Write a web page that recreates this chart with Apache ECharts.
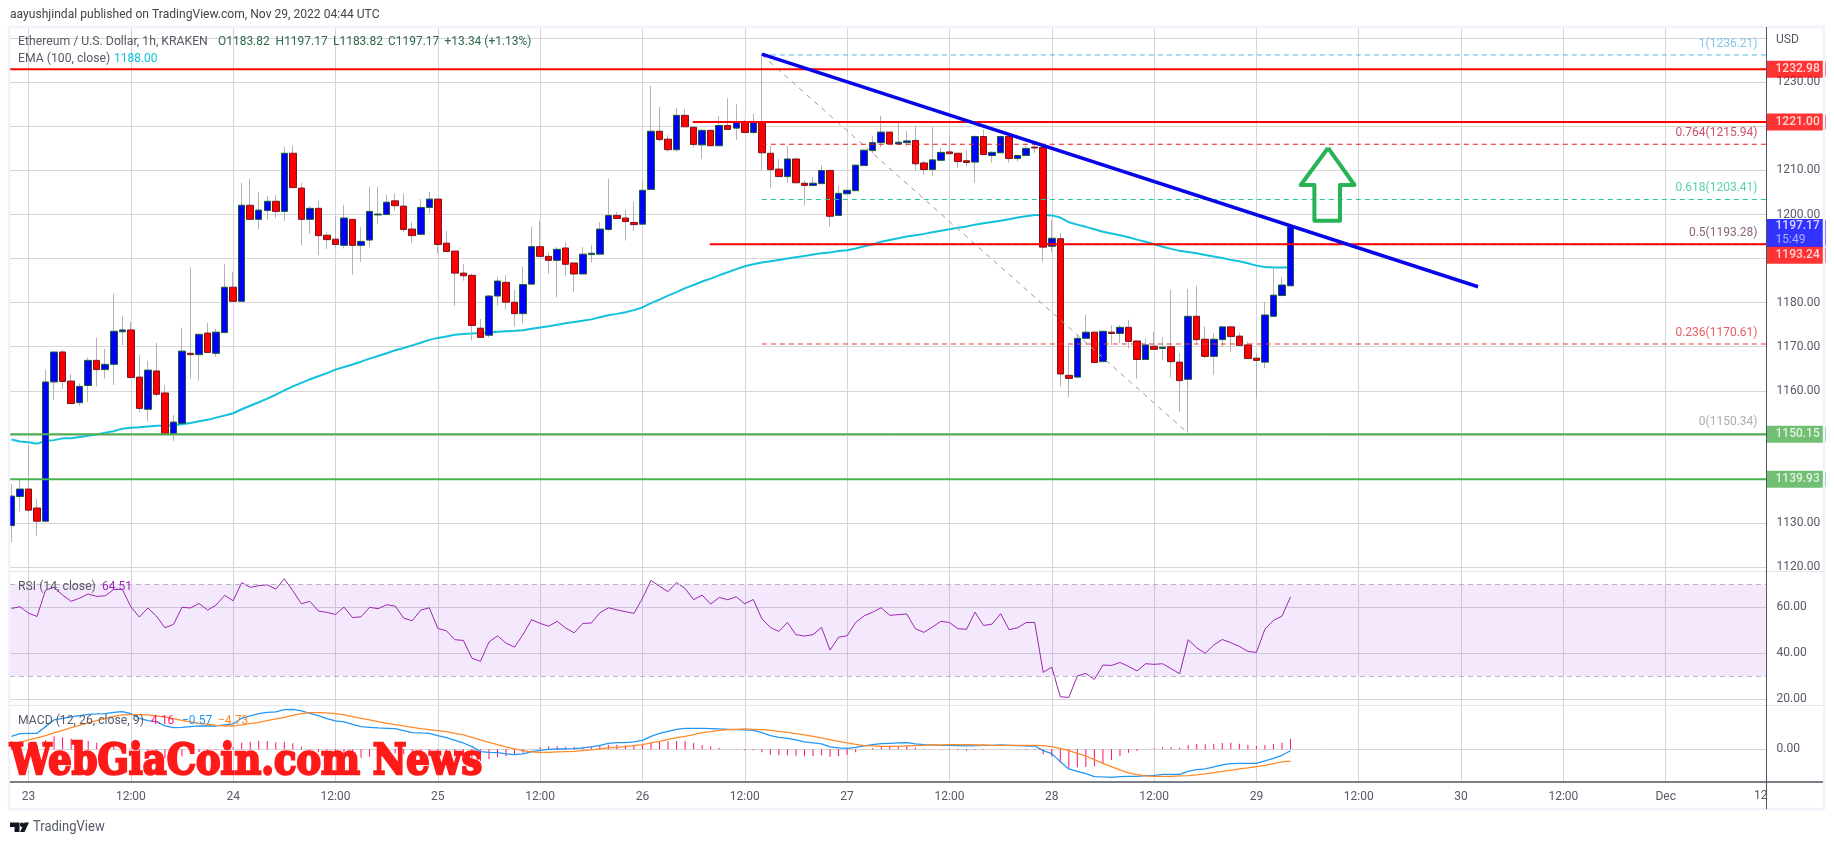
<!DOCTYPE html>
<html>
<head>
<meta charset="utf-8">
<title>ETHUSD 1h</title>
<style>
html, body { margin: 0; padding: 0; background: #fff; }
#chart { width: 1834px; height: 845px; }
</style>
</head>
<body>
<div id="chart"></div>
<script src="https://cdn.jsdelivr.net/npm/echarts@6/dist/echarts.min.js"></script>
<script>
// hours counted from Nov 23 00:00, first candle is hour -2
var firstHour = -2;
var opens = [1129.4,1136.0,1137.7,1133.4,1130.4,1162.0,1168.8,1162.2,1157.3,1161.2,1166.9,1164.8,
1166.0,1173.4,1173.8,1163.1,1155.8,1164.5,1159.5,1150.2,1152.6,1168.5,1168.2,1173.1,1168.5,1173.2,1183.5,1180.3,
1202.1,1198.9,1200.9,1203.0,1200.7,1213.9,1206.0,1198.9,1201.4,1195.3,1194.4,1193.0,1198.9,1193.0,1194.2,1199.9,1200.0,1203.1,1201.9,1196.7,1195.5,1201.6,1203.5,1193.5,1191.7,1186.7,1186.2,1174.2,1172.6,1181.5,1184.6,1180.1,1177.5,1184.2,1192.7,1190.5,1189.6,1192.4,1189.0,1186.5,1190.9,1191.0,1196.6,1199.8,
1199.2,1198.2,1197.8,1205.7,1218.9,1217.1,1214.7,1222.5,1219.8,1215.8,1219.1,1215.6,1220.2,1219.6,1221.1,1218.6,1221.1,1213.9,1210.3,1208.6,1212.6,1207.1,1206.6,1207.0,1210.0,1199.8,1204.7,1205.4,1211.1,1214.5,1216.3,1218.7,1216.0,1216.3,1216.8,1211.7,1210.2,1212.3,1214.2,1213.9,1212.2,1211.9,1217.7,1213.4,1214.0,1217.7,1212.7,1213.4,1215.3,1215.2,1192.8,1194.5,1163.5,1163.1,1171.9,1173.3,1166.6,1173.3,1173.0,1174.4,1171.3,1167.1,1170.1,1169.6,1170.0,1166.5,1162.6,1176.9,1171.7,1167.8,1171.6,1174.5,1172.4,1170.4,1167.4,1166.5,1176.9,1181.6,1183.82];
var closes = [1136.1,1137.7,1132.9,1130.4,1162.0,1168.8,1162.1,1157.1,1161.0,1166.9,1164.8,1166.0,
1173.5,1173.8,1163.0,1156.0,1164.7,1159.2,1150.2,1152.9,1169.0,1168.2,1172.8,1168.7,1173.3,1183.5,1180.3,1202.1,
1198.9,1201.0,1203.0,1200.7,1213.9,1206.1,1198.9,1201.4,1195.2,1194.3,1193.2,1199.2,1193.0,1193.9,1200.7,1200.1,1202.8,1202.0,1196.6,1195.2,1201.6,1203.5,1193.2,1191.6,1186.7,1186.1,1174.8,1172.1,1181.5,1184.9,1180.1,1177.5,1184.1,1192.7,1190.5,1189.6,1192.1,1188.7,1186.5,1191.0,1191.2,1196.7,1199.8,1199.1,
1198.4,1197.7,1205.5,1218.9,1217.0,1214.7,1222.5,1219.9,1215.9,1219.1,1215.6,1220.2,1219.3,1221.0,1218.6,1221.1,1214.0,1210.2,1208.6,1212.6,1207.2,1206.6,1207.1,1210.0,1199.6,1204.8,1205.5,1211.2,1214.6,1216.3,1218.7,1216.0,1216.4,1216.7,1211.5,1210.2,1212.4,1214.1,1213.8,1212.0,1211.8,1217.7,1213.6,1214.1,1217.7,1212.7,1213.4,1215.0,1215.1,1192.6,1194.6,1163.8,1162.8,1171.9,1173.3,1166.4,1173.5,1173.0,1174.4,1171.2,1167.1,1170.4,1169.4,1169.9,1166.6,1162.3,1176.9,1171.6,1167.8,1171.7,1174.5,1172.3,1170.3,1167.3,1166.9,1177.2,1181.7,1184.0,1197.17];
var lows = [1125.6,1132.6,1132.5,1127.1,1130.4,1157.9,1160.4,1157.1,1156.6,1157.5,1161.0,1162.7,
1161.3,1170.4,1163.0,1155.1,1153.0,1158.7,1150.0,1148.6,1152.6,1162.8,1162.3,1168.7,1167.7,1173.2,1180.3,1180.3,
1198.9,1196.7,1198.8,1199.2,1198.6,1206.1,1193.1,1195.6,1190.8,1192.2,1192.3,1192.3,1186.3,1189.3,1192.5,1197.9,1200.0,1200.9,1196.0,1193.6,1195.5,1200.1,1191.1,1191.6,1179.3,1185.0,1171.4,1172.1,1172.1,1179.3,1178.4,1174.6,1175.3,1184.2,1190.5,1186.5,1181.2,1186.1,1182.4,1186.5,1189.1,1191.0,1196.2,1199.0,
1194.1,1196.3,1197.8,1205.7,1216.5,1214.3,1214.3,1219.9,1215.2,1212.6,1215.6,1215.6,1219.2,1216.9,1218.6,1218.2,1210.0,1206.1,1208.6,1207.2,1207.2,1202.0,1206.5,1207.0,1197.3,1199.8,1204.7,1205.4,1211.1,1213.9,1215.3,1216.0,1215.8,1215.4,1210.0,1209.0,1208.8,1212.3,1213.8,1210.6,1210.9,1207.2,1213.6,1211.8,1214.0,1211.8,1212.0,1213.4,1214.0,1189.3,1191.4,1161.0,1158.5,1163.1,1171.9,1166.4,1166.6,1170.4,1170.8,1169.6,1162.7,1167.1,1169.4,1167.0,1163.0,1155.2,1150.5,1170.7,1167.4,1163.6,1169.9,1168.8,1170.3,1167.3,1158.2,1165.1,1176.9,1181.6,1183.82];
var highs = [1138.9,1139.8,1147.7,1135.5,1164.8,1168.8,1169.3,1163.8,1161.7,1167.6,1172.0,1169.5,
1182.0,1177.0,1175.6,1168.2,1166.8,1170.9,1161.3,1154.5,1174.3,1188.0,1173.0,1175.4,1174.0,1188.7,1187.0,1207.2,
1208.1,1205.1,1204.2,1204.4,1215.4,1215.6,1207.2,1201.9,1203.1,1196.0,1199.5,1202.2,1199.0,1197.1,1206.3,1206.3,1204.4,1204.8,1204.7,1198.3,1203.5,1205.1,1203.6,1196.3,1191.8,1188.7,1186.6,1176.3,1181.7,1185.9,1186.2,1182.9,1188.2,1197.2,1198.6,1191.4,1192.6,1193.7,1189.0,1192.6,1193.1,1198.3,1208.1,1200.6,
1201.0,1202.9,1208.1,1229.2,1224.4,1218.0,1224.2,1223.9,1219.8,1219.3,1219.3,1222.4,1226.4,1225.0,1221.5,1222.8,1236.3,1215.6,1212.6,1215.4,1212.7,1207.8,1208.5,1211.2,1210.1,1206.5,1205.6,1211.3,1214.7,1217.8,1222.4,1218.7,1221.0,1218.9,1220.1,1212.2,1219.9,1215.2,1217.8,1214.0,1214.6,1218.0,1219.3,1214.3,1217.9,1218.0,1213.6,1215.5,1215.8,1215.3,1198.8,1195.8,1170.2,1172.7,1177.2,1173.4,1173.6,1174.9,1174.9,1176.1,1171.3,1171.8,1173.4,1172.1,1182.9,1168.6,1183.1,1183.8,1174.6,1173.1,1174.7,1174.6,1173.2,1171.1,1168.5,1180.2,1188.2,1185.8,1197.17];

var ema = [1148.95,1148.5,1148.3,1148.0,1148.6,1148.8,1149.2,1149.25,1149.5,1149.8,1150.1,1150.5,1150.8,1151.4,1151.6,1151.7,1151.9,1152.05,1152.1,1152.2,1152.4,1152.7,1153.1,1153.4,1153.9,1154.4,1154.9,1155.8,1156.6,1157.4,1158.2,1159.1,1160.1,1161,1161.8,1162.6,1163.3,1164,1164.8,1165.4,1165.96,1166.6,1167.3,1167.9,1168.5,1169.2,1169.7,1170.3,1170.9,1171.55,1172,1172.3,1172.7,1172.9,1173,1173.1,1173.2,1173.4,1173.5,1173.6,1173.75,1174.05,1174.35,1174.65,1175,1175.3,1175.6,1175.9,1176.2,1176.7,1177.15,1177.45,
1177.8,1178.3,1178.9,1179.9,1180.7,1181.6,1182.4,1183.3,1184,1184.8,1185.45,1186.2,1186.9,1187.6,1188.25,1188.7,1189.1,1189.4,1189.7,1190,1190.3,1190.6,1190.9,1191.2,1191.4,1191.7,1191.9,1192.3,1192.8,1193.2,1193.8,1194.2,1194.6,1195,1195.3,1195.6,1195.97,1196.3,1196.65,1197,1197.3,1197.7,1198,1198.3,1198.6,1198.9,1199.3,1199.6,1199.9,1199.9,1199.8,1199.3,1198.25,1197.7,1197.2,1196.65,1196.1,1195.7,1195.3,1194.85,1194.3,1193.8,1193.25,1192.7,1192.2,1191.75,1191.5,1191.2,1190.8,1190.45,1190.15,1189.7,1189.4,1188.95,1188.4,1188.1,1187.95,1187.95,1188.0];

var rsi = [59.5,60.25,57.5,56,67.5,68.7,65.3,62.6,64,65.8,64.75,65,67.8,67.8,60.25,55.75,59.7,56.2,51.1,52.55,60,59.7,61.7,58.8,61,65.2,62.85,70.7,68.7,69.4,69.8,67.9,72.4,67.2,61.55,62.6,58.35,57.8,56.9,60.1,55.5,55.9,60,59.4,61.1,60.55,55.3,54.15,58.8,59.8,50.8,49.8,45.9,45.6,37.9,36.5,44.9,47.6,44.4,42.7,48.2,54.6,53,51.8,53.9,51,48.9,53,53.15,57.6,59.8,58.9,
58.1,57.35,63.9,71.7,69.2,66.8,70.8,68.2,63.3,65.3,61.4,64.3,63.3,64.6,61.55,63.4,55,51.25,49.5,53.4,48.1,47.5,48.1,51.25,41.4,47,47.6,53.4,56.3,57.9,59.8,56.5,56.8,57.1,50.7,49.1,51.4,53.9,53.4,50.7,50.4,57.9,52.1,52.7,57.2,50.25,51.1,53.4,53.4,31.7,34,21.1,20.8,30.1,31.25,28.6,34.9,34.7,36,34.3,32.3,35.45,35.2,35.45,33.3,31.1,45.9,42.4,40,43.6,46,44.6,43,40.8,40.4,50.5,54.3,56.2,64.51];

var macd = [5.2,6.27,6.4,6.4,9.07,11.73,12.4,12.93,13.47,14,14.13,14.27,14.8,15.07,14.27,12.4,11.47,11.07,9.33,8.67,8.8,9.07,9.33,9.33,9.33,9.73,10.13,12.4,13.33,14.27,14.8,14.93,15.87,16,15.33,14.4,13.47,12.27,11.33,10.93,10,9.07,8.8,8.53,8.4,8.27,7.47,6.67,6.53,6.4,5.47,4.67,3.6,2.53,1.07,-0.93,-1.2,-1.33,-1.87,-2.13,-1.87,-0.93,-0.4,0,0.13,0.13,0.27,0.53,0.93,1.6,2.4,2.67,
2.67,2.93,3.6,5.2,6.4,7.2,8,8.4,8.4,8.4,8.27,8.13,8,7.87,7.73,7.6,6.67,5.47,4.8,4.4,3.73,2.93,2.53,2.13,0.93,0.53,0.4,0.8,1.33,1.87,2.27,2.4,2.53,2.67,2.13,1.87,1.73,1.6,1.6,1.47,1.33,1.47,1.6,1.6,1.73,1.6,1.47,1.33,1.33,-0.53,-1.73,-4.93,-7.87,-8.8,-9.73,-10.93,-11.07,-11.2,-10.93,-10.8,-10.8,-10.53,-10.4,-10,-10,-10,-8.8,-8.13,-7.87,-7.07,-6.27,-5.73,-5.6,-5.6,-5.6,-4.67,-3.6,-2.4,-0.57];
var signal = [2,2.8,3.73,4.53,5.47,6.53,7.6,8.67,9.6,10.67,11.47,12.4,13.2,13.73,13.87,13.87,13.73,13.33,12.93,12.27,11.6,10.93,10.4,10,9.6,9.33,9.33,9.73,10.27,10.8,11.47,12.13,12.8,13.6,14.27,14.67,14.67,14.53,14.27,13.73,13.07,12.4,11.73,11.07,10.4,9.87,9.33,8.8,8.27,7.87,7.47,7.07,6.4,5.73,4.8,3.73,2.8,1.87,0.93,0.13,-0.53,-1.07,-1.2,-1.2,-1.07,-0.93,-0.8,-0.53,-0.27,0.13,0.53,0.8,
1.07,1.47,1.87,2.53,3.2,4,4.67,5.2,5.87,6.67,7.07,7.6,7.87,8,8.13,8,7.87,7.6,7.2,6.8,6.27,5.73,5.2,4.53,3.87,3.2,2.53,2,1.47,1.33,1.2,1.2,1.2,1.33,1.47,1.6,1.73,1.73,1.87,1.87,1.87,1.73,1.73,1.6,1.6,1.6,1.6,1.6,1.6,1.47,1.07,0.4,-0.53,-1.6,-2.67,-4.13,-5.6,-6.93,-8.27,-9.47,-10.13,-10.67,-10.8,-10.8,-10.8,-10.67,-10.53,-10.27,-9.87,-9.33,-8.8,-8.4,-7.87,-7.47,-6.93,-6.4,-5.73,-5.07,-4.73];
var histogram = [3.2,3.47,2.67,1.87,3.6,5.2,4.8,4.26,3.87,3.33,2.66,1.87,1.6,1.34,0.4,-1.47,-2.26,-2.26,-3.6,-3.6,-2.8,-1.86,-1.07,-0.67,-0.27,0.4,0.8,2.67,3.06,3.47,3.33,2.8,3.07,2.4,1.06,-0.27,-1.2,-2.26,-2.94,-2.8,-3.07,-3.33,-2.93,-2.54,-2,-1.6,-1.86,-2.13,-1.74,-1.47,-2,-2.4,-2.8,-3.2,-3.73,-4.66,-4,-3.2,-2.8,-2.26,-1.34,0.14,0.8,1.2,1.2,1.06,1.07,1.06,1.2,1.47,1.87,1.87,
1.6,1.46,1.73,2.67,3.2,3.2,3.33,3.2,2.53,1.73,1.2,0.53,0.13,-0.13,-0.4,-0.4,-1.2,-2.13,-2.4,-2.4,-2.54,-2.8,-2.67,-2.4,-2.94,-2.67,-2.13,-1.2,-0.14,0.54,1.07,1.2,1.33,1.34,0.66,0.27,0,-0.13,-0.27,-0.4,-0.54,-0.26,-0.13,0,0.13,0,-0.13,-0.27,-0.27,-2,-2.8,-5.33,-7.34,-7.2,-7.06,-6.8,-5.47,-4.27,-2.66,-1.33,-0.67,0.14,0.4,0.8,0.8,0.67,1.73,2.14,2,2.26,2.53,2.67,2.27,1.87,1.33,1.73,2.13,2.67,4.16];

var gridHours = [0,12,24,36,48,60,72,84,96,108,120,132,144,156,168,180,192];
var timeLabels = ['23','12:00','24','12:00','25','12:00','26','12:00','27','12:00','28','12:00','29','12:00','30','12:00','Dec'];
var priceGrid = [1120,1130,1140,1150,1160,1170,1180,1190,1200,1210,1220,1230,1240];
var priceLabels = [1120,1130,1160,1170,1180,1200,1210,1230];
var rsiTicks = [20,40,60];
var macdTicks = [0];

// drawings
var redLevels = [1232.98, 1221.00, 1193.24];
var redStarts = [-2.17, 77.9, 79.9];
var greenLevels = [1150.15, 1139.93];
var fibRatios = ['1', '0.764', '0.618', '0.5', '0.236', '0'];
var fibPrices = [1236.21, 1215.94, 1203.41, 1193.28, 1170.61, 1150.34];
var fibLine = ['#4db6e8', '#f01818', '#26c990', '#3a2a6a', '#e53935', '#9e9e9e'];
var fibText = ['#64b5e6', '#b8283c', '#2fc596', '#6b3a5c', '#e0343c', '#999999'];
var trendHours = [86, 170];
var trendPrices = [1236.4, 1183.6];
var fibDiagHours = [86, 136];
var fibDiagPrices = [1236.21, 1150.34];
var arrowHours = [152.4, 155.5, 153.8, 153.8, 150.8, 150.8, 149.2, 152.4];
var arrowPrices = [1215.1, 1206.7, 1206.7, 1198.6, 1198.6, 1206.7, 1206.7, 1215.1];

var xMin = -2.17, xMax = 203.82;
var font = 'Roboto, sans-serif';
var gridColor = '#d6d6d8';
var axisColor = '#50535e';
var textColor = '#555a66';

function pairs(values) {
    return values.map(function (v, i) { return [firstHour + i, v]; });
}
function line(xs, ys) {
    return xs.map(function (x, i) { return [x, ys[i]]; });
}

var wickData = opens.map(function (o, i) {
    return [firstHour + i, o, closes[i], lows[i], highs[i]];
});
var bodyData = opens.map(function (o, i) {
    return [firstHour + i, o, closes[i], Math.min(o, closes[i]), Math.max(o, closes[i])];
});

function xAxisFor(gridIndex, showLabels) {
    return {
        type: 'value', gridIndex: gridIndex, min: xMin, max: xMax,
        axisLine: { show: false },
        axisTick: { show: false, customValues: gridHours },
        splitLine: { show: true, lineStyle: { color: gridColor, width: 1 } },
        axisLabel: {
            show: showLabels, customValues: gridHours, hideOverlap: false,
            margin: 9, color: textColor, fontFamily: font, fontSize: 12,
            formatter: function (v) { return timeLabels[gridHours.indexOf(v)]; }
        }
    };
}
function yAxisFor(gridIndex, min, max, ticks, labels) {
    return {
        type: 'value', gridIndex: gridIndex, position: 'right', min: min, max: max,
        axisLine: { show: false },
        axisTick: { show: false, customValues: ticks },
        splitLine: { show: true, lineStyle: { color: gridColor, width: 1 } },
        axisLabel: {
            customValues: labels, margin: 10, color: textColor, fontFamily: font, fontSize: 12,
            padding: [2, 0, 0, 0], showMinLabel: true, showMaxLabel: true,
            formatter: function (v) { return v.toFixed(2); }
        }
    };
}

var series = [
    { type: 'line', name: 'EMA', xAxisIndex: 0, yAxisIndex: 0, data: pairs(ema), showSymbol: false, z: 2,
      lineStyle: { color: '#12c2dc', width: 2 } },
    { type: 'candlestick', name: 'wicks', xAxisIndex: 0, yAxisIndex: 0, data: wickData, barWidth: 1, z: 3,
      encode: { x: 0, y: [1, 2, 3, 4] },
      itemStyle: { color: '#b4b4b4', color0: '#b4b4b4', borderColor: '#b4b4b4', borderColor0: '#b4b4b4', borderWidth: 1 } },
    { type: 'candlestick', name: 'bodies', xAxisIndex: 0, yAxisIndex: 0, data: bodyData, barWidth: 7, z: 4,
      encode: { x: 0, y: [1, 2, 3, 4] },
      itemStyle: { color: '#0000ff', color0: '#ff0000', borderColor: '#1b5e30', borderColor0: '#7a1420', borderWidth: 1 } },
    { type: 'line', name: 'Fib diagonal', xAxisIndex: 0, yAxisIndex: 0, data: line(fibDiagHours, fibDiagPrices), showSymbol: false, z: 5,
      lineStyle: { color: '#9a9a9a', width: 1, type: [5, 5] } },
    { type: 'line', name: 'Trend', xAxisIndex: 0, yAxisIndex: 0, data: line(trendHours, trendPrices), showSymbol: false, z: 7,
      lineStyle: { color: '#0606e8', width: 3.5 } },
    { type: 'line', name: 'Arrow', xAxisIndex: 0, yAxisIndex: 0, data: line(arrowHours, arrowPrices), showSymbol: false, z: 7,
      lineStyle: { color: '#27b355', width: 4, join: 'round' } }
];

// fib levels, dashed from the swing high to the price axis
fibPrices.forEach(function (p, i) {
    // the 0 level sits under the green support line
    if (fibRatios[i] !== '0') {
        series.push({
            type: 'line', name: 'Fib ' + fibRatios[i], xAxisIndex: 0, yAxisIndex: 0,
            data: [[fibDiagHours[0], p], [xMax, p]], showSymbol: false, z: 5,
            lineStyle: { color: fibLine[i], width: 1, type: [5, 4] }
        });
    }
    series.push({
        type: 'scatter', xAxisIndex: 0, yAxisIndex: 0, data: [[xMax, p]], symbolSize: 0, clip: false, z: 9,
        label: {
            show: true, position: 'left', distance: 0, offset: [-9, -11],
            color: fibText[i], fontFamily: font, fontSize: 12,
            formatter: fibRatios[i] + '(' + p.toFixed(2) + ')'
        }
    });
});

function levelTag(p, color, offsetY) {
    return {
        type: 'scatter', xAxisIndex: 0, yAxisIndex: 0, data: [[xMax, p]], symbolSize: 0, clip: false, z: 11,
        label: {
            show: true, position: 'right', distance: 0, offset: [0, offsetY || 0],
            backgroundColor: color, color: '#fff', fontFamily: font, fontSize: 12, fontWeight: 500,
            lineHeight: 15, padding: [1, 6, 1, 9], borderRadius: [0, 2, 2, 0],
            formatter: p.toFixed(2)
        }
    };
}
redLevels.forEach(function (p, i) {
    series.push({
        type: 'line', xAxisIndex: 0, yAxisIndex: 0, data: [[redStarts[i], p], [xMax, p]], showSymbol: false, z: 6,
        lineStyle: { color: '#ff0000', width: 2 }
    });
    series.push(levelTag(p, '#ff0000', i === 2 ? 11 : 0));
});
greenLevels.forEach(function (p) {
    series.push({
        type: 'line', xAxisIndex: 0, yAxisIndex: 0, data: [[xMin, p], [xMax, p]], showSymbol: false, z: 6,
        lineStyle: { color: '#4caf50', width: 2 }
    });
    series.push(levelTag(p, '#4caf50'));
});
// last price tag with the bar countdown
series.push({
    type: 'scatter', xAxisIndex: 0, yAxisIndex: 0, data: [[xMax, closes[closes.length - 1]]], symbolSize: 0, clip: false, z: 10,
    label: {
        show: true, position: 'right', distance: 0, offset: [0, 6],
        backgroundColor: '#0000ff', padding: [0, 6, 0, 9], borderRadius: [0, 2, 2, 0],
        formatter: '{a|1197.17}\n{b|15:49}',
        rich: {
            a: { color: '#fff', fontFamily: font, fontSize: 12, fontWeight: 500, lineHeight: 15 },
            b: { color: '#c8d0ff', fontFamily: font, fontSize: 12, lineHeight: 13 }
        }
    }
});

// RSI pane
series.push({
    type: 'line', name: 'RSI', xAxisIndex: 1, yAxisIndex: 1, data: pairs(rsi), showSymbol: false, z: 3,
    lineStyle: { color: '#9c27b0', width: 1 },
    markArea: { silent: true, itemStyle: { color: 'rgba(150,40,230,0.1)' }, data: [[{ yAxis: 70 }, { yAxis: 30 }]] },
    markLine: {
        silent: true, symbol: 'none', label: { show: false },
        lineStyle: { color: '#b9b9bd', type: [5, 4], width: 1 },
        data: [{ yAxis: 70 }, { yAxis: 30 }]
    }
});

// MACD pane
series.push({
    type: 'bar', name: 'Histogram', xAxisIndex: 2, yAxisIndex: 2, data: pairs(histogram), barWidth: 1, z: 2,
    itemStyle: { color: '#ff0d6e' }
});
series.push({
    type: 'line', name: 'MACD', xAxisIndex: 2, yAxisIndex: 2, data: pairs(macd), showSymbol: false, z: 3,
    lineStyle: { color: '#2196f3', width: 1.3 }
});
series.push({
    type: 'line', name: 'Signal', xAxisIndex: 2, yAxisIndex: 2, data: pairs(signal), showSymbol: false, z: 4,
    lineStyle: { color: '#ff8a2a', width: 1.3 }
});

function txt(x, y, text, color, size, sx) {
    return {
        type: 'text', z: 30, silent: true, x: x, y: y, scaleX: sx || 1,
        style: { x: 0, y: 0, text: text, fill: color, font: (size || 12) + 'px ' + font, textVerticalAlign: 'middle' }
    };
}
function hline(x1, x2, y, color, w) {
    return { type: 'line', z: 20, silent: true, shape: { x1: x1, y1: y, x2: x2, y2: y }, style: { stroke: color, lineWidth: w || 1 } };
}
var legendGreen = '#2f6b4a';

var graphics = [
    { type: 'rect', z: 19, silent: true, shape: { x: 9, y: 27, width: 1815, height: 782 }, style: { fill: 'none', stroke: '#f0f3fa', lineWidth: 2.5 } },
    hline(10, 1823, 571.5, '#e4e6ec'),
    hline(10, 1823, 705.5, '#e4e6ec'),
    hline(10, 1823, 782, axisColor, 1.5),
    { type: 'line', z: 20, silent: true, shape: { x1: 1766.5, y1: 27, x2: 1766.5, y2: 809 }, style: { stroke: axisColor, lineWidth: 1 } },
    txt(10, 15, 'aayushjindal published on TradingView.com, Nov 29, 2022 04:44 UTC', '#444', 13, 0.93),
    txt(18, 42, 'Ethereum / U.S. Dollar, 1h, KRAKEN', textColor, 13, 0.94),
    txt(218, 42, 'O1183.82', legendGreen, 13, 0.92),
    txt(275.6, 42, 'H1197.17', legendGreen, 13, 0.92),
    txt(333, 42, 'L1183.82', legendGreen, 13, 0.92),
    txt(388, 42, 'C1197.17', legendGreen, 13, 0.92),
    txt(444.5, 42, '+13.34 (+1.13%)', legendGreen, 13, 0.92),
    txt(18, 59, 'EMA (100, close)', textColor, 13, 0.94),
    txt(114, 59, '1188.00', '#12c2dc', 13, 0.92),
    txt(18, 587, 'RSI (14, close)', textColor, 13, 0.94),
    txt(102, 587, '64.51', '#9c27b0', 13, 0.92),
    txt(18, 721, 'MACD (12, 26, close, 9)', textColor, 13, 0.94),
    txt(151, 721, '4.16', '#ff0d6e', 13, 0.92),
    txt(182, 721, '\u22120.57', '#2196f3', 13, 0.92),
    txt(218, 721, '\u22124.73', '#ff8a2a', 13, 0.92),
    txt(1776, 40, 'USD', textColor, 12),
    txt(1754, 796, '12', textColor, 12),
    { type: 'text', z: 40, silent: true, x: 10, y: 784, scaleX: 0.876, style: {
        x: 0, y: 0, text: 'WebGiaCoin.com News', fill: '#ff1a1a', stroke: '#ff1a1a', lineWidth: 2.5,
        font: 'bold 42px "DejaVu Serif", serif', textVerticalAlign: 'bottom'
    } },
    { type: 'polygon', z: 30, silent: true, shape: { points: [[10, 822.5], [19.5, 822.5], [19.5, 832], [14.5, 832], [14.5, 827], [10, 827]] }, style: { fill: '#131722' } },
    { type: 'circle', z: 30, silent: true, shape: { cx: 22, cy: 824.8, r: 2.2 }, style: { fill: '#131722' } },
    { type: 'polygon', z: 30, silent: true, shape: { points: [[24.5, 822.5], [29, 822.5], [24.5, 832], [20, 832]] }, style: { fill: '#131722' } },
    txt(33, 827, 'TradingView', '#555a66', 14, 0.93)
];

var myChart = echarts.init(document.getElementById('chart'), null, { renderer: 'canvas' });
myChart.setOption({
    animation: false,
    backgroundColor: '#ffffff',
    grid: [
        { left: 10, right: 67.5, top: 27, height: 544 },
        { left: 10, right: 67.5, top: 571, height: 134 },
        { left: 10, right: 67.5, top: 705, height: 77 }
    ],
    xAxis: [xAxisFor(0, false), xAxisFor(1, false), xAxisFor(2, true)],
    yAxis: [
        yAxisFor(0, 1119.1, 1242.55, priceGrid, priceLabels),
        yAxisFor(1, 17.5, 75.8, rsiTicks, rsiTicks),
        yAxisFor(2, -13.08, 17.72, macdTicks, macdTicks)
    ],
    series: series,
    graphic: { elements: graphics }
});
</script>
</body>
</html>
